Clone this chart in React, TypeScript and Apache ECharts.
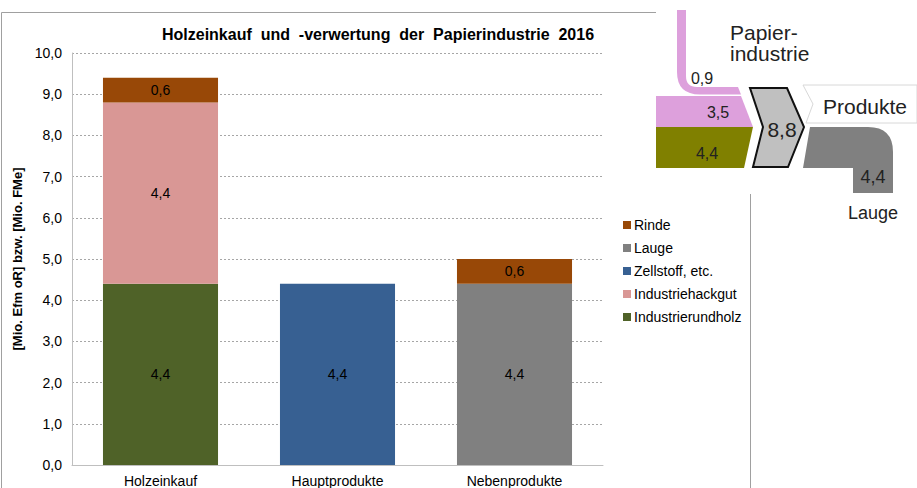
import React, { useEffect, useRef } from "react";
import * as echarts from "echarts";

const categories = ["Holzeinkauf", "Hauptprodukte", "Nebenprodukte"];
const seriesNames = ["Industrierundholz", "Industriehackgut", "Zellstoff, etc.", "Lauge", "Rinde"];
const industrierundholz = [4.4, null, null];
const industriehackgut = [4.4, null, null];
const zellstoff = [null, 4.4, null];
const lauge = [null, null, 4.4];
const rinde = [0.6, null, 0.6];
const seriesColors = ["#4F6228", "#D99795", "#376092", "#808080", "#984807"];
const legendOrder = ["Rinde", "Lauge", "Zellstoff, etc.", "Industriehackgut", "Industrierundholz"];
const yTicks = { min: 0, max: 10, interval: 1 };

// flow diagram values (top right inset)
const flowLabels = { top: "0,9", pink: "3,5", green: "4,4", total: "8,8", lauge: "4,4" };

const fmt = (v: number) => v.toFixed(1).replace(".", ",");

export default function App() {
  const ref = useRef<HTMLDivElement>(null);
  useEffect(() => {
    document.body.style.margin = "0";
    if (!ref.current) return;
    const chart = echarts.init(ref.current, null, { renderer: "svg" });
    const font = "'Liberation Sans', Arial, sans-serif";

    echarts.graphic.registerShape(
      "pinkPipe",
      echarts.graphic.extendPath(
        "M 677 10 L 686 10 L 686 76 Q 686 87 697 87 L 738 87 L 741 94.5 L 700 94.5 Q 677 94.5 677 72 Z",
        {}
      )
    );
    echarts.graphic.registerShape(
      "laugePipe",
      echarts.graphic.extendPath(
        "M 810 127 L 868 127 Q 893 127 893 152 L 893 193 L 853 193 L 853 168 L 803 168 Z",
        {}
      )
    );

    const dataSets = [industrierundholz, industriehackgut, zellstoff, lauge, rinde];
    const txt = (x: number, y: number, text: string, size: number, extra: any = {}) => ({
      type: "text",
      x,
      y,
      z: 100,
      style: {
        text,
        fill: "#222",
        font: `${size}px ${font}`,
        textAlign: "center",
        textVerticalAlign: "middle",
        ...extra,
      },
    });

    chart.setOption({
      animation: false,
      textStyle: { fontFamily: font },
      title: {
        text: "Holzeinkauf  und  -verwertung  der  Papierindustrie  2016",
        left: 373,
        top: 21,
        textAlign: "center",
        textStyle: { fontSize: 16, fontWeight: "bold", color: "#000", fontFamily: font },
      },
      legend: {
        orient: "vertical",
        left: 618,
        top: 213,
        itemWidth: 8,
        itemHeight: 8,
        itemGap: 9,
        icon: "rect",
        data: legendOrder,
        textStyle: { fontSize: 14, color: "#000", fontFamily: font, padding: [0, 0, 0, -2] },
      },
      grid: { left: 72, right: 314, top: 53, bottom: 23 },
      xAxis: {
        type: "category",
        data: categories,
        axisLine: { lineStyle: { color: "#bfbfbf" } },
        axisTick: { show: false },
        axisLabel: { fontSize: 14, color: "#000", margin: 9, fontFamily: font },
      },
      yAxis: {
        type: "value",
        min: yTicks.min,
        max: yTicks.max,
        interval: yTicks.interval,
        name: "[Mio. Efm oR] bzw. [Mio. FMe]",
        nameLocation: "middle",
        nameGap: 42,
        nameTextStyle: { fontSize: 13, fontWeight: "bold", color: "#000", fontFamily: font },
        axisLine: { show: true, lineStyle: { color: "#bfbfbf" } },
        axisTick: { show: false },
        axisLabel: { fontSize: 14, color: "#000", margin: 10, formatter: (v: number) => fmt(v), fontFamily: font },
        splitLine: { lineStyle: { color: "#a6a6a6", type: [2, 2], width: 1 } },
      },
      series: seriesNames.map((name, i) => ({
        name,
        type: "bar",
        stack: "total",
        barWidth: "65%",
        data: dataSets[i],
        itemStyle: { color: seriesColors[i] },
        label: {
          show: true,
          position: "inside",
          color: "#000",
          fontSize: 14,
          fontFamily: font,
          formatter: (p: any) => (p.value == null ? "" : fmt(p.value)),
        },
      })),
      graphic: [
        {
          type: "rect",
          z: 1,
          silent: true,
          shape: { x: 1.5, y: 12.5, width: 749, height: 500 },
          style: { fill: "none", stroke: "#a0a0a0", lineWidth: 1 },
        },
        {
          type: "rect",
          z: 50,
          shape: { x: 656, y: 0, width: 261, height: 194 },
          style: { fill: "#fff" },
        },
        { type: "pinkPipe", z: 60, x: 0, y: 0, style: { fill: "#DDA0DC" } },
        {
          type: "polygon",
          z: 60,
          shape: { points: [[656, 96], [741, 96], [753, 127], [656, 127]] },
          style: { fill: "#DDA0DC" },
        },
        {
          type: "polygon",
          z: 60,
          shape: { points: [[656, 127], [753, 127], [744, 168], [656, 168]] },
          style: { fill: "#808000" },
        },
        {
          type: "polygon",
          z: 61,
          shape: { points: [[750, 88], [787, 88], [804, 127], [788, 167], [753, 167], [763, 127]] },
          style: { fill: "#C0C0C0", stroke: "#111", lineWidth: 2 },
        },
        {
          type: "polygon",
          z: 60,
          shape: { points: [[803, 85], [917, 85], [917, 123], [806, 123], [813, 104]] },
          style: { fill: "#fff", stroke: "#d8d8d8", lineWidth: 1 },
        },
        { type: "laugePipe", z: 60, x: 0, y: 0, style: { fill: "#808080" } },
        txt(730, 22, "Papier-\nindustrie", 21, { textAlign: "left", textVerticalAlign: "top", lineHeight: 21 }),
        txt(865, 106, "Produkte", 21),
        txt(702, 78, flowLabels.top, 16),
        txt(718, 112, flowLabels.pink, 16),
        txt(707, 153, flowLabels.green, 16),
        txt(782, 129, flowLabels.total, 21),
        txt(873, 177, flowLabels.lauge, 18),
        txt(873, 213, "Lauge", 18),
      ],
    });
    return () => chart.dispose();
  }, []);
  return <div ref={ref} style={{ width: 917, height: 488 }} />;
}
